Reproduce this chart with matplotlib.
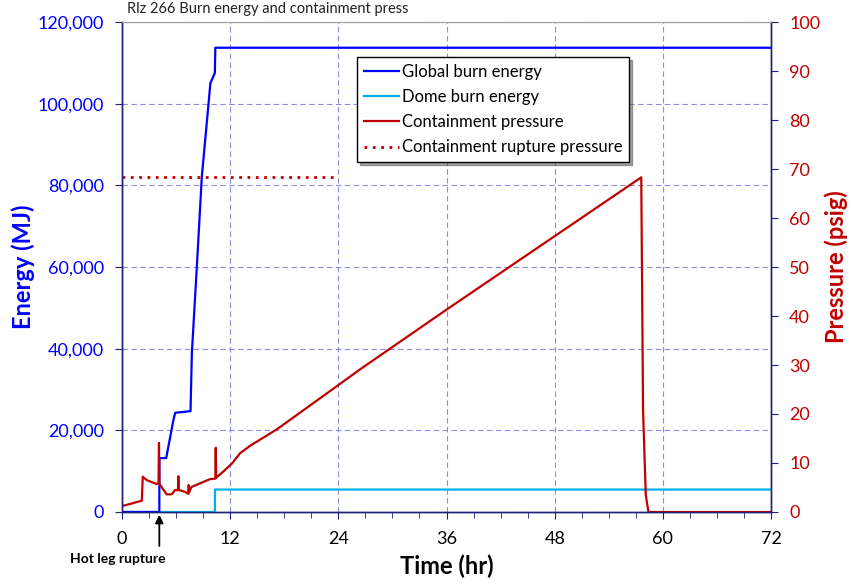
import matplotlib.pyplot as plt
from matplotlib.ticker import FuncFormatter, MultipleLocator

plt.rcParams['font.family'] = ['Lato', 'DejaVu Sans']

# global burn energy (MJ) vs time (hr)
global_t = [0, 4.14, 4.15, 4.9, 5.7, 5.9, 7.6, 7.75, 8.3, 8.85, 9.6, 9.8, 10.2, 10.3, 10.35, 72]
global_e = [0, 0, 13200, 13200, 22500, 24300, 24700, 39000, 60000, 82000, 100000, 105000, 107000, 107500, 113700, 113700]

# dome burn energy (MJ)
dome_t = [0, 10.3, 10.31, 72]
dome_e = [0, 0, 5500, 5500]

# containment pressure (psig)
press_t = [0, 2.2, 2.3, 2.75, 3.85, 4.05, 4.1, 4.15, 4.2, 4.95, 5.5, 5.9, 6.2, 6.25, 6.3, 7.0, 7.35, 7.4,
           7.45, 7.7, 9.75, 10.35, 10.4, 10.45, 11.2, 12.2, 13.1, 14.2, 17.2, 24, 26.4, 36, 48, 57.6,
           57.8, 58.1, 58.4, 72]
press_p = [1.2, 2.3, 7.2, 6.5, 5.7, 5.9, 14.1, 5.8, 5.6, 3.6, 3.6, 4.5, 4.4, 7.3, 4.5, 4.1, 3.7, 5.5,
           4.0, 5.1, 6.7, 6.8, 13.1, 7.0, 8.2, 9.9, 12.0, 13.5, 16.9, 25.9, 29.1, 41.3, 56.3, 68.3,
           20.8, 3.5, 0, 0]

# containment rupture pressure (psig)
rupture_t = [0, 24]
rupture_p = [68.3, 68.3]

title = 'Rlz 266 Burn energy and containment press'

blue = '#0000FF'
cyan = '#00B0F0'
red = '#C00000'
navy = '#1F1F7A'
grid_c = '#8C8CE0'

fig = plt.figure(figsize=(8.52, 5.84), dpi=100)
ax = fig.add_axes([0.1432, 0.1233, 0.7618, 0.839])
ax2 = ax.twinx()

l1, = ax.plot(global_t, global_e, color=blue, lw=1.6, label='Global burn energy', zorder=4)
l2, = ax.plot(dome_t, dome_e, color=cyan, lw=1.6, label='Dome burn energy', zorder=3)
l3, = ax2.plot(press_t, press_p, color=red, lw=1.6, label='Containment pressure')
l4, = ax2.plot(rupture_t, rupture_p, color=red, lw=2.0, ls=(0, (1, 2)), label='Containment rupture pressure')

ax.set_xlim(0, 72)
ax.set_ylim(0, 120000)
ax2.set_ylim(0, 100)
ax.xaxis.set_major_locator(MultipleLocator(12))
ax.xaxis.set_minor_locator(MultipleLocator(3))
ax.yaxis.set_major_locator(MultipleLocator(20000))
ax2.yaxis.set_major_locator(MultipleLocator(10))
ax.yaxis.set_major_formatter(FuncFormatter(lambda v, p: '{:,.0f}'.format(v)))

ax.grid(True, which='major', color=grid_c, ls=(0, (5, 3)), lw=0.8)
ax.set_axisbelow(True)

for a in (ax, ax2):
    for s in ('left', 'right', 'bottom'):
        a.spines[s].set_color(navy)
        a.spines[s].set_linewidth(1.0)
    a.spines['top'].set_color('#A0A0A0')
ax.set_zorder(1)
ax2.set_zorder(2)
ax2.patch.set_visible(False)

ax.tick_params(axis='y', colors=navy, labelcolor=blue, labelsize=13, length=5, pad=8)
ax.tick_params(axis='x', which='major', colors=navy, labelcolor='black', labelsize=13, length=5, pad=9)
ax.tick_params(axis='x', which='minor', colors=navy, length=4)
ax2.tick_params(axis='y', colors=navy, labelcolor=red, labelsize=13, length=5, pad=8)

ax.set_xlabel('Time (hr)', fontsize=17, fontweight='bold', labelpad=5)
ax.set_ylabel('Energy (MJ)', fontsize=17, fontweight='bold', color=blue, labelpad=2)
ax2.set_ylabel('Pressure (psig)', fontsize=17, fontweight='bold', color=red, labelpad=3)

fig.text(127 / 852, 1 - 9 / 584, title, fontsize=10.5, color='#222222', va='center', ha='left')

# hot leg rupture marker
ax.annotate('Hot leg rupture', xy=(4.14, 0), xycoords='data',
            xytext=(118 / 852, 1 - 559 / 584), textcoords='figure fraction',
            ha='center', va='center', fontsize=10, fontweight='bold', annotation_clip=False)
ax.annotate('', xy=(4.14, 0), xycoords='data', xytext=(4.14, -9000), textcoords='data',
            arrowprops=dict(arrowstyle='-|>', color='black', lw=1.3, mutation_scale=12),
            annotation_clip=False)

leg = ax2.legend(handles=[l1, l2, l3, l4], loc='upper left', bbox_to_anchor=(0.362, 0.928),
                 fontsize=12, frameon=True, fancybox=False, shadow=True, handlelength=2.1,
                 handletextpad=0.2, borderpad=0.4, labelspacing=0.55, borderaxespad=0)
leg.get_frame().set_edgecolor('black')
leg.get_frame().set_linewidth(1.0)

fig.savefig('out.png', dpi=100)
